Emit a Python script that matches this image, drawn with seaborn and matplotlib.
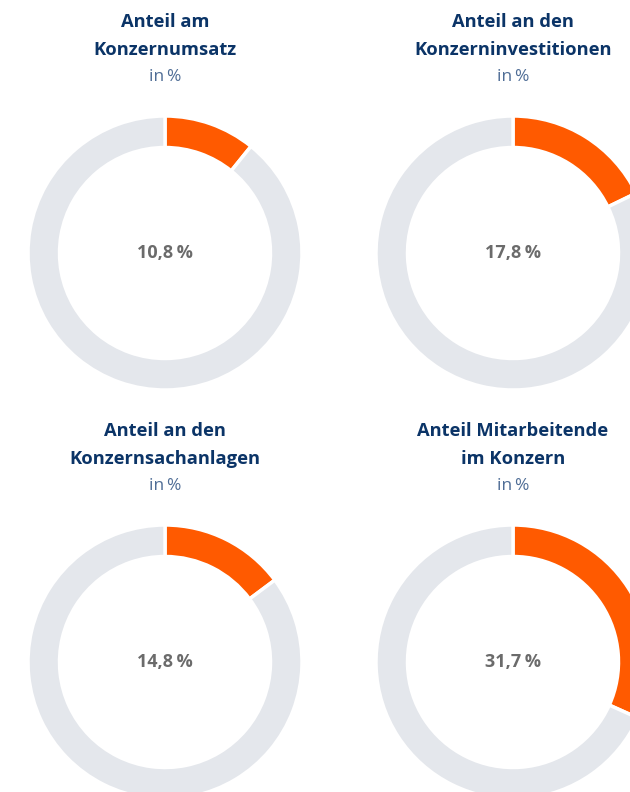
import matplotlib.pyplot as plt
import seaborn as sns

# Daten
titles = ["Anteil am\nKonzernumsatz", "Anteil an den\nKonzerninvestitionen",
          "Anteil an den\nKonzernsachanlagen", "Anteil Mitarbeitende\nim Konzern"]
shares = [10.8, 17.8, 14.8, 31.7]
labels = ["10,8\u2009%", "17,8\u2009%", "14,8\u2009%", "31,7\u2009%"]

sns.set_theme(style="white")
plt.rcParams['font.family'] = ['Open Sans', 'DejaVu Sans']

W, H = 630, 792
fig = plt.figure(figsize=(W / 100, H / 100), dpi=100)
fig.patch.set_facecolor("white")

orange = "#ff5a00"
grey = "#e4e7ec"
navy = "#0b3467"
lightblue = "#4f6d96"
textgrey = "#6b6b6b"

centers = [(165, 253), (513, 253), (165, 662), (513, 662)]
title_y = [21, 21, 430, 430]
R = 137

for i in range(4):
    cx, cy = centers[i]
    ax = fig.add_axes([(cx - R) / W, (H - cy - R) / H, 2 * R / W, 2 * R / H])
    ax.pie([shares[i], 100 - shares[i]], colors=[orange, grey], startangle=90,
           counterclock=False, radius=1,
           wedgeprops=dict(width=0.23, edgecolor="white", linewidth=2.5))
    ax.set_xlim(-1, 1)
    ax.set_ylim(-1, 1)
    ax.set_aspect("equal")
    ax.axis("off")
    ax.text(0, 0, labels[i], ha="center", va="center", fontsize=13,
            fontweight="bold", color=textgrey)

    fig.text(cx / W, 1 - (title_y[i] - 8) / H, titles[i], ha="center", va="top",
             fontsize=13.2, fontweight="bold", color=navy, linespacing=1.68)
    fig.text(cx / W, 1 - (title_y[i] + 56) / H, "in\u2009%", ha="center", va="center",
             fontsize=12.5, color=lightblue)

fig.savefig("out.png", dpi=100, facecolor="white")
